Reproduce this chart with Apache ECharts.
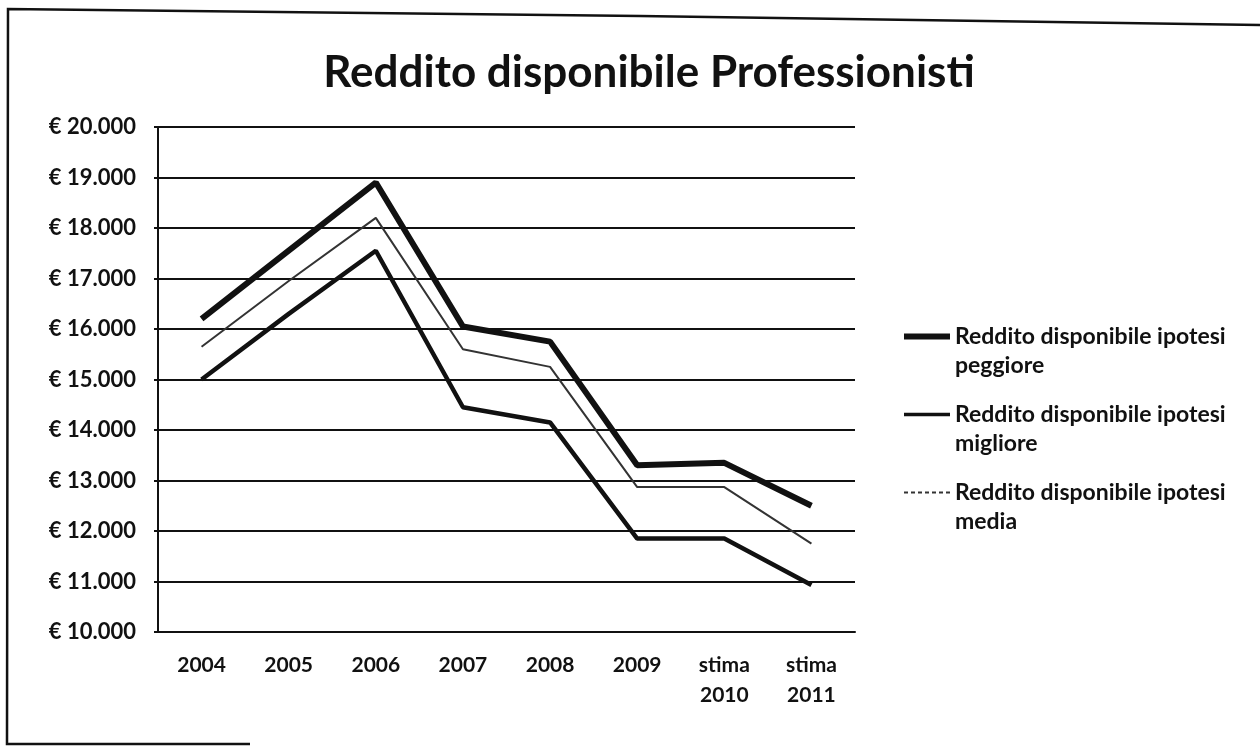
<!DOCTYPE html>
<html>
<head>
<meta charset="utf-8">
<script src="https://cdn.jsdelivr.net/npm/echarts@6/dist/echarts.min.js"></script>
<style>
html,body{margin:0;padding:0;background:#fff;}
#chart{width:1260px;height:746px;}
</style>
</head>
<body>
<div id="chart"></div>
<script>
var categories = ['2004', '2005', '2006', '2007', '2008', '2009', 'stima\n2010', 'stima\n2011'];
var seriesNames = ['Reddito disponibile ipotesi peggiore', 'Reddito disponibile ipotesi migliore', 'Reddito disponibile ipotesi media'];
var peggiore = [16200, 17550, 18900, 16050, 15750, 13300, 13350, 12500];
var migliore = [15000, 16300, 17550, 14450, 14150, 11850, 11850, 10930];
var media = [15650, 16950, 18200, 15600, 15250, 12870, 12870, 11750];

var FONT = 'Lato, "Open Sans", "Noto Sans", sans-serif';
var chart = echarts.init(document.getElementById('chart'));

function legendLabel(name) {
  return ' \n' + name.replace(' ipotesi ', ' ipotesi\n');
}

var option = {
  backgroundColor: '#fff',
  animation: false,
  title: {
    text: 'Reddito disponibile Professionisti',
    left: 644,
    textAlign: 'center',
    top: 46,
    textStyle: { fontFamily: FONT, fontSize: 44, fontWeight: 'bold', color: '#111' }
  },
  grid: { left: 158, right: 405, top: 127, bottom: 114, containLabel: false },
  legend: {
    orient: 'vertical',
    left: 896,
    top: 288,
    itemWidth: 46,
    itemHeight: 14,
    itemGap: -9,
    itemStyle: { opacity: 0 },
    data: [
      { name: seriesNames[0], lineStyle: { width: 6, color: '#111' } },
      { name: seriesNames[1], lineStyle: { width: 3.5, color: '#111' } },
      { name: seriesNames[2], lineStyle: { type: [4, 3], width: 2, color: '#333' } }
    ],
    formatter: legendLabel,
    textStyle: {
      fontFamily: FONT, fontSize: 23, fontWeight: 'bold', color: '#111',
      lineHeight: 29
    }
  },
  xAxis: {
    type: 'category',
    data: categories,
    boundaryGap: true,
    axisLine: { show: true, lineStyle: { color: '#111', width: 2 } },
    axisTick: { show: false },
    axisLabel: {
      fontFamily: FONT, fontSize: 21, fontWeight: 'bold', color: '#111',
      margin: 18, lineHeight: 30, interval: 0
    }
  },
  yAxis: {
    type: 'value',
    min: 10000,
    max: 20000,
    interval: 1000,
    axisLine: { show: true, lineStyle: { color: '#111', width: 2 } },
    axisTick: { show: true, length: 4, lineStyle: { color: '#111', width: 2 } },
    splitLine: { show: true, lineStyle: { color: '#111', width: 2 } },
    axisLabel: {
      fontFamily: FONT, fontSize: 22, fontWeight: 'bold', color: '#111', margin: 22,
      formatter: function (v) { return '€ ' + (v / 1000).toFixed(3); }
    }
  },
  series: [
    { name: seriesNames[0], type: 'line', data: peggiore, symbol: 'none',
      lineStyle: { color: '#111', width: 6 }, itemStyle: { color: '#111' } },
    { name: seriesNames[1], type: 'line', data: migliore, symbol: 'none',
      lineStyle: { color: '#111', width: 4.5 }, itemStyle: { color: '#111' } },
    { name: seriesNames[2], type: 'line', data: media, symbol: 'none',
      lineStyle: { color: '#333', width: 2 }, itemStyle: { color: '#333' } }
  ],
  graphic: [
    { type: 'polyline', silent: true,
      shape: { points: [[1260, 25], [640, 16], [8, 9], [7, 744], [250, 744]] },
      style: { stroke: '#111', lineWidth: 2.5, fill: null } }
  ]
};
chart.setOption(option);
</script>
</body>
</html>
